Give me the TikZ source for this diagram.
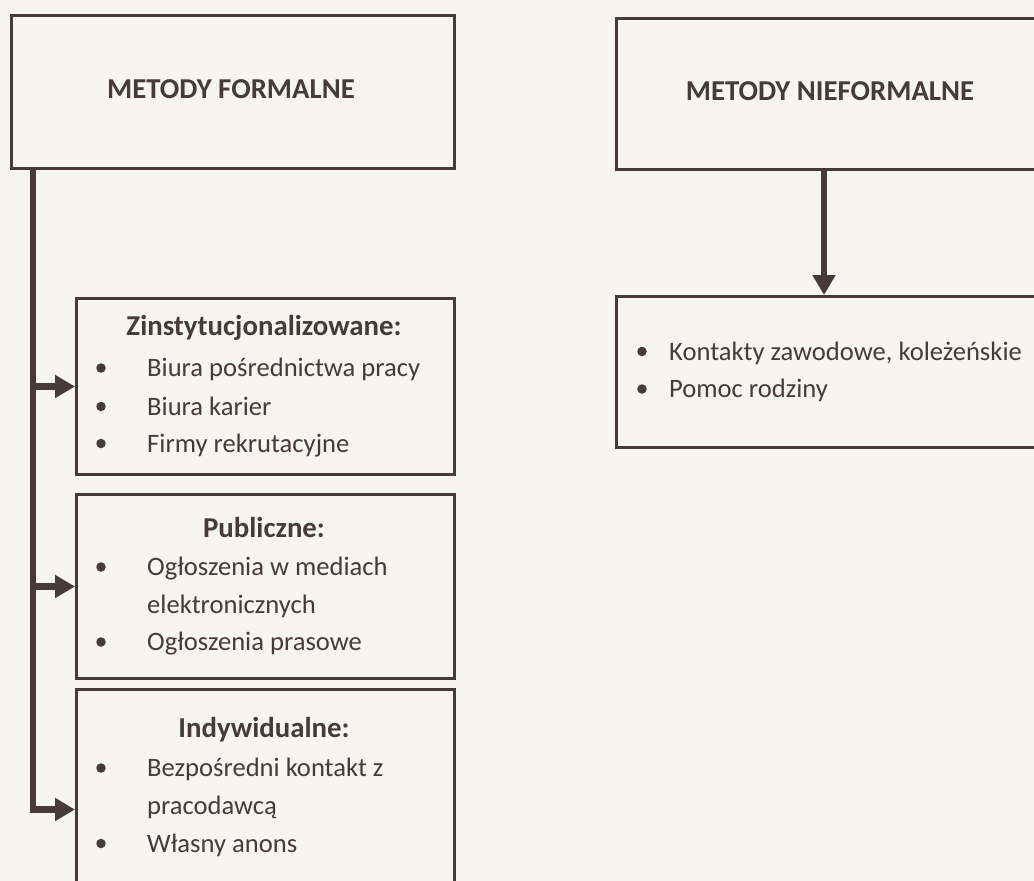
\documentclass[tikz,border=0pt]{standalone}
\usepackage{fontspec}
\setmainfont{Carlito}
\usetikzlibrary{arrows.meta}
\definecolor{ink}{HTML}{463B37}
\definecolor{paper}{HTML}{F6F5F1}
\begin{document}
\begin{tikzpicture}[x=1pt,y=-1pt,
  box/.style={draw=ink,line width=3pt,inner sep=0pt,anchor=north west},
  conn/.style={draw=ink,line width=6.5pt,-{Triangle[length=20pt,width=22pt]}},
  txt/.style={text=ink,font=\fontsize{26.6}{30}\selectfont,inner sep=0pt,anchor=base west},
  head/.style={text=ink,font=\bfseries\fontsize{28.8}{32}\selectfont,inner sep=0pt,anchor=base},
  bul/.style={fill=ink,circle,inner sep=0pt,minimum size=9.5pt}]
\useasboundingbox (0,0) rectangle (1034,881);
\fill[paper] (0,0) rectangle (1034,881);
\clip (0,0) rectangle (1034,881);

% boxes
\node[box,minimum width=443pt,minimum height=153pt] (f) at (10,14) {};
\node[box,minimum width=378pt,minimum height=176pt] (z) at (75,297) {};
\node[box,minimum width=378pt,minimum height=184pt] (p) at (75,493) {};
\node[box,minimum width=378pt,minimum height=240pt] (i) at (75,688) {};
\node[box,minimum width=430pt,minimum height=151pt] (nf) at (615,17) {};
\node[box,minimum width=430pt,minimum height=151pt] (k) at (615,295) {};

% headings
\node[head] (tf) at (231,98.5) {METODY FORMALNE};
\node[head] (tnf) at (830,100) {METODY NIEFORMALNE};
\node[head] (tz) at (264,335) {Zinstytucjonalizowane:};
\node[head] (tp) at (264,537) {Publiczne:};
\node[head] (ti) at (264,737) {Indywidualne:};

% Zinstytucjonalizowane
\node[bul] (bz1) at (101,368) {};
\node[txt] (z1) at (147,376.5) {Biura pośrednictwa pracy};
\node[bul] (bz2) at (101,406.5) {};
\node[txt] (z2) at (147,415) {Biura karier};
\node[bul] (bz3) at (101,443.5) {};
\node[txt] (z3) at (147,452) {Firmy rekrutacyjne};

% Publiczne
\node[bul] (bp1) at (101,567) {};
\node[txt] (p1) at (147,575) {Ogłoszenia w mediach};
\node[txt] (p1b) at (147,613) {elektronicznych};
\node[bul] (bp2) at (101,642) {};
\node[txt] (p2) at (147,650) {Ogłoszenia prasowe};

% Indywidualne
\node[bul] (bi1) at (101,768) {};
\node[txt] (i1) at (147,776) {Bezpośredni kontakt z};
\node[txt] (i1b) at (147,814) {pracodawcą};
\node[bul] (bi2) at (101,843.5) {};
\node[txt] (i2) at (147,852) {Własny anons};

% nieformalne
\node[bul] (bk1) at (642,351.5) {};
\node[txt] (k1) at (669,360) {Kontakty zawodowe, koleżeńskie};
\node[bul] (bk2) at (642,389) {};
\node[txt] (k2) at (669,397.5) {Pomoc rodziny};

% connectors
\coordinate (sp) at (33,167);
\draw[conn] (sp) |- (z.west);
\draw[conn] (sp) |- (p.west);
\draw[conn] (sp) |- (i.west);
\coordinate (ax) at (824,0);
\draw[conn] (nf.south -| ax) -- (k.north -| ax);
\end{tikzpicture}
\end{document}
